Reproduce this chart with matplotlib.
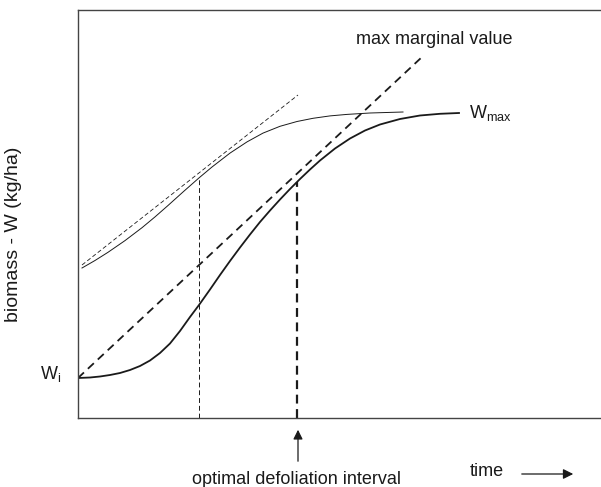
import numpy as np
import matplotlib
matplotlib.use("Agg")
import matplotlib.pyplot as plt

plt.rcParams['font.family'] = ['Liberation Sans', 'DejaVu Sans']

# growth curve W(t) (arbitrary units)
t_growth = [0, 12, 22, 32, 42, 52, 62, 72, 82, 92, 102, 112, 121, 132, 142,
            152, 162, 172, 182, 192, 202, 212, 222, 232, 242, 257, 272, 287,
            302, 322, 342, 362, 381]
w_growth = [40, 40.5, 41.5, 43, 45, 48, 52, 57.5, 65, 74.5, 87, 101, 113,
            128.5, 143, 157, 170.5, 183.5, 196, 207.5, 218.5, 229, 239, 248.5,
            257.5, 269.5, 279.5, 287.5, 293.5, 299, 302.5, 304.2, 305]

# shifted (thin) growth curve
t_shift = [4, 17, 30, 47, 64, 77, 90, 106, 121, 134, 152, 169, 185, 202,
           219, 235, 252, 269, 292, 325]
w_shift = [150, 157.5, 165.7, 177.4, 190.3, 201.1, 212.5, 226.9, 240.1, 251,
           264.9, 276.1, 284.9, 291.7, 296.5, 299.7, 302.1, 303.6, 305, 306]

# tangent lines
t_tan_thin = [4, 220]
w_tan_thin = [153, 323]
t_tan_max = [0, 344]
w_tan_max = [40, 361]

# vertical markers
t_mark_thin, w_mark_thin = 121, 241
t_opt, w_opt = 219, 236

fig = plt.figure(figsize=(6.01, 4.87), dpi=100)
ax = fig.add_axes([78 / 601, 69 / 487, 523 / 601, 408 / 487])
ax.set_xlim(0, 523)
ax.set_ylim(0, 408)

ink = '#1a1a1a'
ax.plot(t_growth, w_growth, color=ink, lw=1.3, solid_joinstyle='round')
ax.plot(t_shift, w_shift, color=ink, lw=0.7, solid_joinstyle='round')
ax.plot(t_tan_thin, w_tan_thin, color=ink, lw=0.6, dashes=(5, 3))
ax.plot(t_tan_max, w_tan_max, color=ink, lw=1.3, dashes=(4.5, 3))
ax.plot([t_mark_thin, t_mark_thin], [0, w_mark_thin], color=ink, lw=0.7, dashes=(5, 3))
ax.plot([t_opt, t_opt], [0, w_opt], color=ink, lw=1.6, dashes=(4, 2.5))

ax.spines['right'].set_visible(False)
for s in ['left', 'top', 'bottom']:
    ax.spines[s].set_color('#444444')
    ax.spines[s].set_linewidth(1.0)
ax.set_xticks([])
ax.set_yticks([])

fs = 13
ax.text(356, 378, 'max marginal value', fontsize=fs, ha='center', va='center', color=ink)
ax.text(391, 305, r'W$_{\mathregular{max}}$', fontsize=fs, ha='left', va='center', color=ink)
ax.text(-38, 44, r'W$_{\mathregular{i}}$', fontsize=fs, ha='left', va='center',
        color=ink, clip_on=False)
ax.set_ylabel('biomass - W (kg/ha)', fontsize=14, color=ink, labelpad=0)
ax.yaxis.set_label_coords(-56 / 523, 0.45)

ax.annotate('', xy=(t_opt + 1, -9), xytext=(t_opt + 1, -46),
            arrowprops=dict(arrowstyle='-|>', color=ink, lw=0.9, mutation_scale=14),
            annotation_clip=False)
ax.text(t_opt, -61, 'optimal defoliation interval', fontsize=fs, ha='center',
        va='center', color=ink, clip_on=False)

ax.text(392, -54, 'time', fontsize=fs, ha='left', va='center', color=ink, clip_on=False)
ax.annotate('', xy=(498, -56), xytext=(441, -56),
            arrowprops=dict(arrowstyle='-|>', color=ink, lw=0.9, mutation_scale=15),
            annotation_clip=False)

fig.savefig('out.png', dpi=100)
